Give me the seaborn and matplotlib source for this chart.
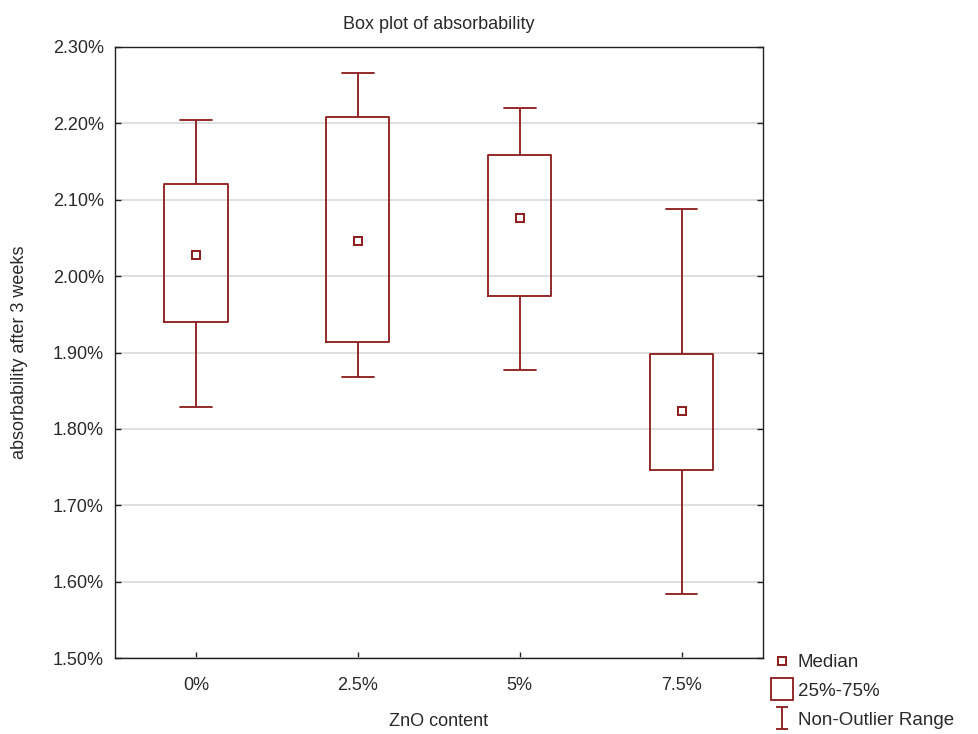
import numpy as np
import pandas as pd
import matplotlib
matplotlib.use("Agg")
import matplotlib.pyplot as plt
from matplotlib.lines import Line2D
from matplotlib.path import Path
from matplotlib.ticker import FuncFormatter, MultipleLocator
import seaborn as sns

# ---- data ----
categories = ["0%", "2.5%", "5%", "7.5%"]
whisker_low = [1.828, 1.868, 1.877, 1.584]
q1 = [1.940, 1.914, 1.974, 1.746]
medians = [2.028, 2.046, 2.076, 1.824]
q3 = [2.120, 2.208, 2.158, 1.898]
whisker_high = [2.204, 2.266, 2.220, 2.088]

rows = []
for i, c in enumerate(categories):
    for v in (whisker_low[i], q1[i], medians[i], q3[i], whisker_high[i]):
        rows.append({"ZnO": c, "val": v})
df = pd.DataFrame(rows)
med_df = pd.DataFrame({"ZnO": categories, "val": medians})

sns.set_style("white")
plt.rcParams["font.family"] = ["Liberation Sans", "DejaVu Sans"]
FS = 13

RED = "#8B1A1A"
TXT = "#2a2a2a"
fig = plt.figure(figsize=(9.79, 7.34), dpi=100)
ax = fig.add_axes([0.1175, 0.1035, 0.779 - 0.1175, 0.936 - 0.1035])

ax.yaxis.grid(True, color="#d9d9d9", linewidth=1.2, zorder=0)
ax.set_axisbelow(True)

sns.boxplot(data=df, x="ZnO", y="val", order=categories, whis=(0, 100),
            width=0.39, fill=False, color=RED, linecolor=RED, linewidth=1.3,
            medianprops={"visible": False}, showfliers=False, ax=ax)
sns.pointplot(data=med_df, x="ZnO", y="val", order=categories, errorbar=None,
              linestyle="none", marker="s", markersize=6, markerfacecolor="white",
              markeredgecolor=RED, markeredgewidth=1.4, color=RED, ax=ax)

ax.set_xlim(-0.5, 3.5)
ax.set_ylim(1.50, 2.30)
ax.yaxis.set_major_locator(MultipleLocator(0.1))
ax.yaxis.set_major_formatter(FuncFormatter(lambda v, p: f"{v:.2f}%"))

for s in ax.spines.values():
    s.set_visible(True)
    s.set_color("#222222")
    s.set_linewidth(1.0)

ax.tick_params(axis="both", direction="in", length=4, width=1, color="#222222",
               labelsize=FS, labelcolor=TXT)
ax.tick_params(axis="y", right=True, left=True, pad=8)
ax.tick_params(axis="x", bottom=True, top=False, pad=14)

ax.set_title("Box plot of absorbability", fontsize=FS, pad=13, color=TXT)
ax.set_xlabel("ZnO content", fontsize=FS, labelpad=13, color=TXT)
ax.set_ylabel("absorbability after 3 weeks", fontsize=FS, labelpad=18, color=TXT)

# legend
i_marker = Path([(-0.5, -1), (0.5, -1), (0, -1), (0, 1), (-0.5, 1), (0.5, 1)],
                [Path.MOVETO, Path.LINETO, Path.MOVETO, Path.LINETO, Path.MOVETO, Path.LINETO])
handles = [
    Line2D([], [], linestyle="none", marker="s", markersize=6, markerfacecolor="white",
           markeredgecolor=RED, markeredgewidth=1.4),
    Line2D([], [], linestyle="none", marker="s", markersize=16, markerfacecolor="white",
           markeredgecolor=RED, markeredgewidth=1.3),
    Line2D([], [], linestyle="none", marker=i_marker, markersize=16, markerfacecolor="none",
           markeredgecolor=RED, markeredgewidth=1.3),
]
labels = ["Median", "25%-75%", "Non-Outlier Range"]
leg = fig.legend(handles, labels, loc="upper left", bbox_to_anchor=(0.789, 0.109),
                 frameon=False, fontsize=13.5, handlelength=1.0, handletextpad=0.35,
                 labelspacing=0.62, borderaxespad=0, borderpad=0)
for t in leg.get_texts():
    t.set_color(TXT)

fig.savefig("out.png", dpi=100)
